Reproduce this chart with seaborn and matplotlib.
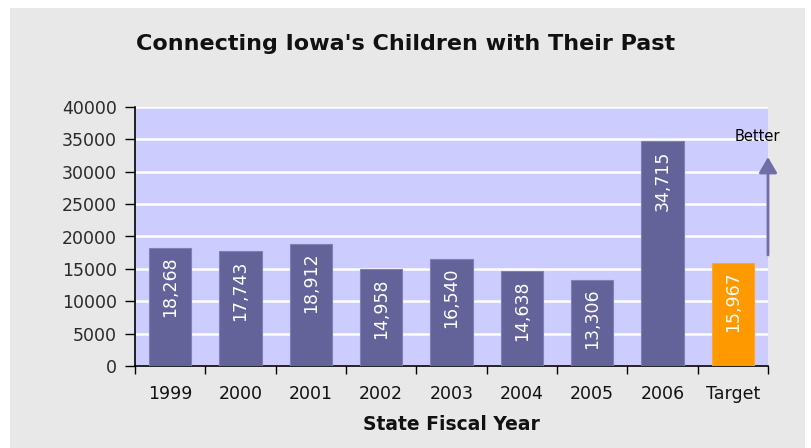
import matplotlib
matplotlib.use("Agg")
import matplotlib.pyplot as plt
import seaborn as sns
import pandas as pd
import numpy as np
from matplotlib.patches import Rectangle

categories = ["1999", "2000", "2001", "2002", "2003", "2004", "2005", "2006", "Target"]
values = [18268, 17743, 18912, 14958, 16540, 14638, 13306, 34715, 15967]
bar_colors = ["#636399"] * 8 + ["#ff9900"]
yticks = [0, 5000, 10000, 15000, 20000, 25000, 30000, 35000, 40000]

sns.set_style("ticks")
plt.rcParams['font.family'] = ['DejaVu Sans']

df = pd.DataFrame({"year": categories, "value": values})

fig = plt.figure(figsize=(8.11, 4.48), dpi=100)
fig.patch.set_facecolor("white")
fig.patches.append(Rectangle((10/811, 0), 1 - 16/811, 1 - 8/448, transform=fig.transFigure,
                             facecolor="#e8e8e8", edgecolor="none", zorder=-10))
ax = fig.add_axes([135/811, 1 - 366/448, (768 - 135)/811, (366 - 107)/448])
ax.set_facecolor("#ccccff")

sns.barplot(data=df, x="year", y="value", hue="year", palette=bar_colors,
            legend=False, width=0.6, saturation=1, ax=ax, zorder=3,
            edgecolor="#8080b8", linewidth=0.8)
for patch, c in zip(ax.patches, bar_colors):
    if c == "#ff9900":
        patch.set_edgecolor("#ffa826")

ax.set_ylim(0, 40000)
ax.set_xlim(-0.5, len(categories) - 0.5)
ax.set_yticks(yticks)
ax.set_yticklabels([str(v) for v in yticks], fontsize=12.5, color="#2a2a2a")
ax.yaxis.grid(True, color="white", linewidth=1.8, zorder=1)
ax.set_axisbelow(True)

ax.set_xticks(range(len(categories)))
ax.set_xticklabels(categories, fontsize=12.5, color="#111111")
ax.set_xticks(np.arange(-0.5, len(categories), 1), minor=True)
ax.tick_params(axis="x", which="major", length=0, pad=14, bottom=False)
ax.tick_params(axis="x", which="minor", length=5.5, width=1, color="black", direction="out", bottom=True)
ax.tick_params(axis="y", which="major", length=7, width=1, color="black", direction="out",
               left=True, pad=6)

for s in ["top", "right"]:
    ax.spines[s].set_visible(False)
for s in ["left", "bottom"]:
    ax.spines[s].set_color("black")
    ax.spines[s].set_linewidth(1.2)

ax.set_xlabel("State Fiscal Year", fontsize=13.5, fontweight="bold", labelpad=8, color="#111111")
ax.set_ylabel("")

for i, v in enumerate(values):
    ax.annotate(f"{v:,}", xy=(i, v), xytext=(0, -6.5), textcoords="offset points",
                rotation=90, ha="center", va="top", color="white", fontsize=12.5, zorder=5)

ax.annotate("", xy=(len(categories) - 0.5, 32270), xytext=(len(categories) - 0.5, 17140),
            arrowprops=dict(arrowstyle="-|>,head_width=0.55,head_length=0.95",
                            color="#6f6fa6", lw=2, shrinkA=0, shrinkB=0),
            annotation_clip=False, zorder=6)
ax.text(8.344, 35514, "Better", fontsize=10.5, ha="center", va="center",
        color="black", zorder=6, clip_on=False)

fig.text(0.5, 1 - 44/448, "Connecting Iowa's Children with Their Past", ha="center", va="center",
         fontsize=16, fontweight="bold", color="#111111")

fig.savefig("out.png", dpi=100)
